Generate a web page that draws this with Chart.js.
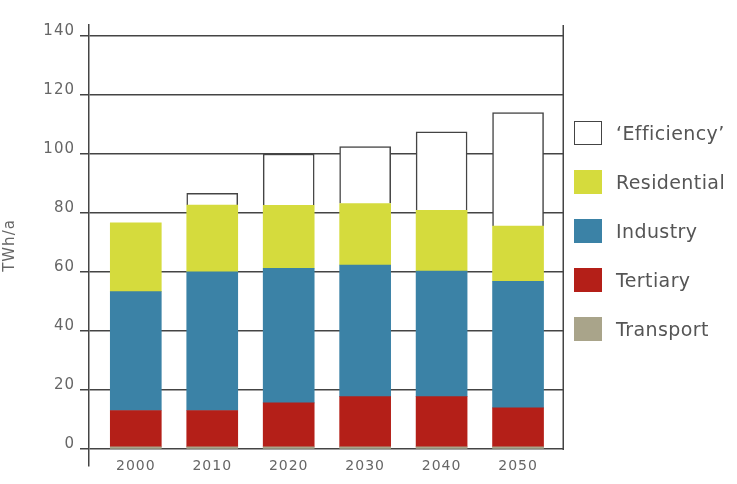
<!DOCTYPE html>
<html>
<head>
<meta charset="utf-8">
<script src="https://cdn.jsdelivr.net/npm/chart.js@4.4.1/dist/chart.umd.min.js"></script>
<style>
  html, body { margin: 0; padding: 0; background: #fff; }
  #wrap { position: relative; width: 737px; height: 484px; }
  #legend { position: absolute; left: 574px; top: 121px; font-family: "DejaVu Sans", sans-serif; }
  .item { position: absolute; left: 0; display: flex; align-items: center; height: 24px; }
  .box { width: 28px; height: 24px; box-sizing: border-box; flex: none; }
  .txt { margin-left: 14px; font-size: 19px; color: #555; letter-spacing: 0.4px; white-space: nowrap; }
</style>
</head>
<body>
<div id="wrap">
  <canvas id="c" width="737" height="484"></canvas>
  <div id="legend"></div>
</div>
<script>
// ---- data ----
const categories = ['2000', '2010', '2020', '2030', '2040', '2050'];
const yTicks = [0, 20, 40, 60, 80, 100, 120, 140];
const transport   = [0.8, 0.8, 0.8, 0.8, 0.8, 0.8];
const tertiary    = [12.3, 12.3, 14.9, 17.0, 17.0, 13.2];
const industry    = [40.3, 47.0, 45.6, 44.6, 42.5, 42.9];
const residential = [23.3, 22.6, 21.3, 20.8, 20.6, 18.7];
const efficiency  = [0, 4.0, 17.4, 19.3, 26.6, 38.4];
const seriesNames = ['Transport', 'Tertiary', 'Industry', 'Residential', '\u2018Efficiency\u2019'];

// ---- styles ----
const lineColor = '#444';
const textColor = '#666';
const colors = ['#a9a48a', '#b41f18', '#3b82a6', '#d5db3d', '#ffffff'];

const toPts = arr => arr.map((v, i) => ({ x: i, y: v }));
const seriesValues = [transport, tertiary, industry, residential, efficiency];

const datasets = seriesValues.map((vals, k) => ({
  label: seriesNames[k],
  data: toPts(vals),
  backgroundColor: colors[k],
  borderColor: k === 4 ? lineColor : colors[k],
  borderWidth: k === 4 ? (ctx => (ctx.raw && ctx.raw.y > 0 ? 1.5 : 0)) : 0,
  borderSkipped: 'start',
  barThickness: 51
}));

const letterSpacingPlugin = {
  id: 'letterSpacing',
  beforeDraw(chart) { chart.ctx.letterSpacing = '1px'; }
};

const rightBorder = {
  id: 'rightBorder',
  afterDatasetsDraw(chart) {
    const { ctx, chartArea, scales } = chart;
    const y0 = scales.y.getPixelForValue(0);
    ctx.save();
    ctx.strokeStyle = lineColor;
    ctx.lineWidth = 1.5;
    ctx.beginPath();
    ctx.moveTo(chartArea.right - 0.75, chartArea.top);
    ctx.lineTo(chartArea.right - 0.75, y0 + 0.75);
    ctx.stroke();
    ctx.restore();
  }
};

const chart = new Chart(document.getElementById('c'), {
  type: 'bar',
  data: { datasets },
  plugins: [letterSpacingPlugin, rightBorder],
  options: {
    responsive: false,
    animation: false,
    layout: { padding: { top: 25, right: 173, left: 0, bottom: 0 } },
    plugins: { legend: { display: false }, tooltip: { enabled: false } },
    scales: {
      x: {
        type: 'linear',
        stacked: true,
        offset: false,
        min: -0.612,
        max: 5.601,
        grid: { display: false, drawTicks: false },
        border: { display: false },
        afterBuildTicks: s => { s.ticks = categories.map((_, i) => ({ value: i })); },
        ticks: {
          callback: v => categories[v],
          mirror: true,
          padding: -9,
          autoSkip: false,
          maxRotation: 0,
          font: { family: 'DejaVu Sans', size: 14 },
          color: textColor
        },
        afterFit: s => { s.height = 18; }
      },
      y: {
        stacked: true,
        min: -5.7,
        max: 143.7,
        afterBuildTicks: s => { s.ticks = yTicks.map(v => ({ value: v })); },
        grid: { color: lineColor, lineWidth: 1.5, tickLength: 9, drawTicks: true },
        border: { display: true, color: lineColor, width: 1.5 },
        ticks: {
          padding: 5,
          labelOffset: -5,
          font: { family: 'DejaVu Sans', size: 15 },
          color: textColor
        },
        title: {
          display: true,
          text: 'TWh/a',
          font: { family: 'DejaVu Sans', size: 15 },
          color: textColor,
          padding: { top: 1, bottom: 0 }
        },
        afterFit: s => { s.width = 89; }
      }
    }
  }
});

// ---- HTML legend built from the chart's datasets (top = last series) ----
const legendEl = document.getElementById('legend');
chart.data.datasets.slice().reverse().forEach((ds, i) => {
  const item = document.createElement('div');
  item.className = 'item';
  item.style.top = (i * 49) + 'px';
  const box = document.createElement('div');
  box.className = 'box';
  box.style.background = ds.backgroundColor;
  if (ds.backgroundColor === '#ffffff') box.style.border = '1.5px solid ' + lineColor;
  const txt = document.createElement('span');
  txt.className = 'txt';
  txt.textContent = ds.label;
  item.appendChild(box);
  item.appendChild(txt);
  legendEl.appendChild(item);
});
</script>
</body>
</html>
